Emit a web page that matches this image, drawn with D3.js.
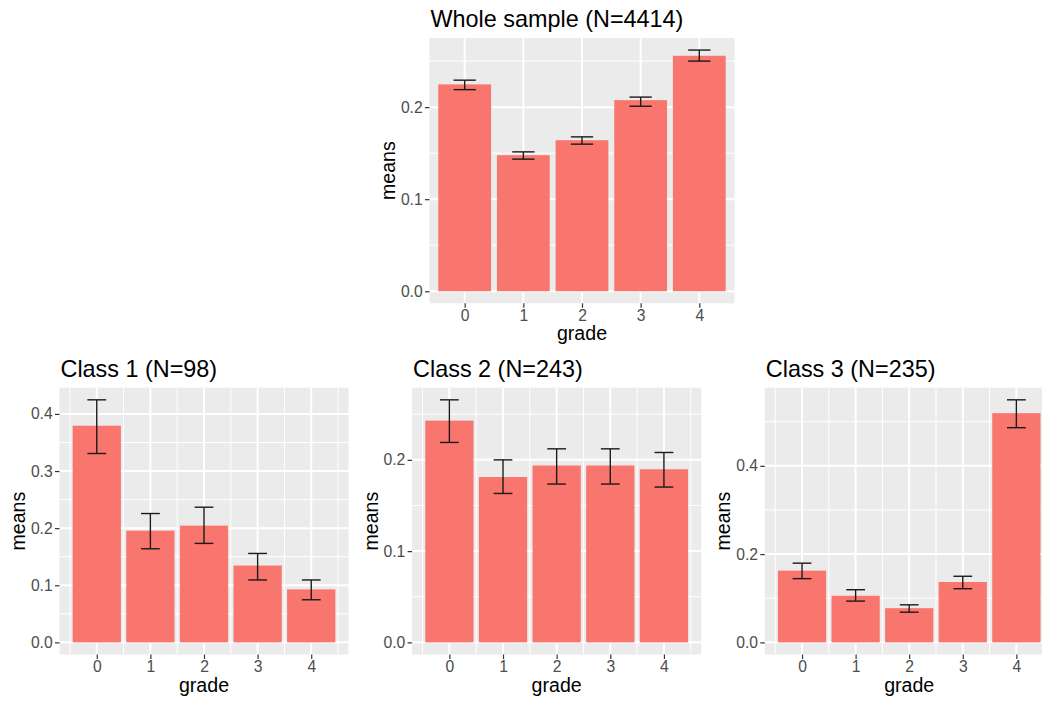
<!DOCTYPE html>
<html>
<head>
<meta charset="utf-8">
<script src="https://cdn.jsdelivr.net/npm/d3@7"></script>
<style>
  body { margin: 0; background: #fff; }
  svg { display: block; font-family: "Liberation Sans", Arial, sans-serif; }
</style>
</head>
<body>
<svg width="1042" height="702"></svg>
<script>
// data
const grades = [0, 1, 2, 3, 4];

const wholeMeans = [0.2247, 0.1478, 0.1641, 0.2076, 0.2558];
const wholeLower = [0.2190, 0.1435, 0.1598, 0.2010, 0.2500];
const wholeUpper = [0.2293, 0.1514, 0.1677, 0.2109, 0.2620];

const class1Means = [0.3794, 0.1956, 0.2044, 0.1345, 0.0928];
const class1Lower = [0.3307, 0.1639, 0.1733, 0.1093, 0.0746];
const class1Upper = [0.4247, 0.2256, 0.2367, 0.1557, 0.1093];

const class2Means = [0.2430, 0.1812, 0.1938, 0.1938, 0.1897];
const class2Lower = [0.2191, 0.1632, 0.1735, 0.1735, 0.1702];
const class2Upper = [0.2658, 0.2000, 0.2121, 0.2121, 0.2081];

const class3Means = [0.1626, 0.1056, 0.0775, 0.1368, 0.5193];
const class3Lower = [0.1444, 0.0935, 0.0684, 0.1216, 0.4865];
const class3Upper = [0.1795, 0.1193, 0.0851, 0.1498, 0.5496];

const titles = ["Whole sample (N=4414)", "Class 1 (N=98)", "Class 2 (N=243)", "Class 3 (N=235)"];
const yTicks = [[0, 0.1, 0.2], [0, 0.1, 0.2, 0.3, 0.4], [0, 0.1, 0.2], [0, 0.2, 0.4]];

// panel boxes (layout only)
const boxes = [
  {x0: 429.5, x1: 734.5, y0: 38, y1: 303.3, discrete: true, cap: 0.38},
  {x0: 59.5, x1: 348.5, y0: 387.7, y1: 654.5, discrete: false, cap: 0.35},
  {x0: 412.1, x1: 701.2, y0: 387.7, y1: 654.5, discrete: false, cap: 0.35},
  {x0: 764.8, x1: 1053.6, y0: 387.7, y1: 654.5, discrete: false, cap: 0.35}
];

const meansList = [wholeMeans, class1Means, class2Means, class3Means];
const lowerList = [wholeLower, class1Lower, class2Lower, class3Lower];
const upperList = [wholeUpper, class1Upper, class2Upper, class3Upper];

const svg = d3.select("svg");
const fmt = d3.format(".1f");

boxes.forEach(function(b, i) {
  const rows = grades.map(function(g, j) {
    return {grade: g, mean: meansList[i][j], lo: lowerList[i][j], hi: upperList[i][j]};
  });
  const top = d3.max(rows, d => d.hi);
  const pad = top * 0.05;

  // ggplot style expansion: discrete adds 0.6, continuous adds 5% of the bar span
  const xdom = b.discrete ? [-0.6, 4.6] : [-0.45 - 0.245, 4.45 + 0.245];
  const x = d3.scaleLinear().domain(xdom).range([b.x0, b.x1]);
  const y = d3.scaleLinear().domain([-pad, top + pad]).range([b.y1, b.y0]);

  const g = svg.append("g");

  g.append("rect")
    .attr("x", b.x0).attr("y", b.y0)
    .attr("width", b.x1 - b.x0).attr("height", b.y1 - b.y0)
    .style("fill", "#ebebeb");

  // grid
  const ticks = yTicks[i];
  const step = ticks[1] - ticks[0];
  const minorY = [];
  for (let v = ticks[0] + step / 2; v <= top + pad; v += step) minorY.push(v);
  g.selectAll(".minor-y").data(minorY).enter().append("line")
    .attr("x1", b.x0).attr("x2", b.x1)
    .attr("y1", d => y(d)).attr("y2", d => y(d))
    .style("stroke", "#fff").style("stroke-width", 1);
  if (!b.discrete) {
    const minorX = [-0.5, 0.5, 1.5, 2.5, 3.5, 4.5];
    g.selectAll(".minor-x").data(minorX).enter().append("line")
      .attr("x1", d => x(d)).attr("x2", d => x(d))
      .attr("y1", b.y0).attr("y2", b.y1)
      .style("stroke", "#fff").style("stroke-width", 1);
  }
  g.selectAll(".major-y").data(ticks).enter().append("line")
    .attr("x1", b.x0).attr("x2", b.x1)
    .attr("y1", d => y(d)).attr("y2", d => y(d))
    .style("stroke", "#fff").style("stroke-width", 2);
  g.selectAll(".major-x").data(grades).enter().append("line")
    .attr("x1", d => x(d)).attr("x2", d => x(d))
    .attr("y1", b.y0).attr("y2", b.y1)
    .style("stroke", "#fff").style("stroke-width", 2);

  // bars
  const bw = x(0.45) - x(0);
  g.selectAll(".bar").data(rows).enter().append("rect")
    .attr("x", d => x(d.grade) - bw)
    .attr("width", bw * 2)
    .attr("y", d => y(d.mean))
    .attr("height", d => y(0) - y(d.mean))
    .style("fill", "#F8766D");

  // error bars
  const cw = x(b.cap / 2) - x(0);
  const eb = g.selectAll(".err").data(rows).enter().append("g")
    .style("stroke", "#1a1a1a").style("stroke-width", 1.4);
  eb.append("line")
    .attr("x1", d => x(d.grade)).attr("x2", d => x(d.grade))
    .attr("y1", d => y(d.lo)).attr("y2", d => y(d.hi));
  eb.append("line")
    .attr("x1", d => x(d.grade) - cw).attr("x2", d => x(d.grade) + cw)
    .attr("y1", d => y(d.lo)).attr("y2", d => y(d.lo));
  eb.append("line")
    .attr("x1", d => x(d.grade) - cw).attr("x2", d => x(d.grade) + cw)
    .attr("y1", d => y(d.hi)).attr("y2", d => y(d.hi));

  // axes
  const ya = g.append("g").attr("transform", "translate(" + b.x0 + ",0)")
    .call(d3.axisLeft(y).tickValues(ticks).tickFormat(fmt).tickSize(4.5).tickPadding(2.3));
  const xa = g.append("g").attr("transform", "translate(0," + b.y1 + ")")
    .call(d3.axisBottom(x).tickValues(grades).tickFormat(d3.format("d")).tickSize(4.5).tickPadding(1.6));
  [ya, xa].forEach(function(a) {
    a.select(".domain").remove();
    a.selectAll(".tick line").style("stroke", "#333").style("stroke-width", 1.2);
    a.selectAll(".tick text")
      .style("fill", "#4d4d4d")
      .style("font-size", "15.7px")
      .style("font-family", "'Liberation Sans', Arial, sans-serif");
  });

  // labels
  g.append("text")
    .attr("x", b.x0 + 1).attr("y", b.y0 - 11)
    .style("font-size", "23.4px").style("fill", "#000")
    .text(titles[i]);
  g.append("text")
    .attr("x", (b.x0 + Math.min(b.x1, 1042 + (b.x1 - 1042))) / 2)
    .attr("y", b.y1 + 37)
    .attr("text-anchor", "middle")
    .style("font-size", "19.6px").style("fill", "#000")
    .text("grade");
  g.append("text")
    .attr("transform", "translate(" + (b.x0 - 34.5) + "," + ((b.y0 + b.y1) / 2) + ") rotate(-90)")
    .attr("text-anchor", "middle")
    .style("font-size", "19.6px").style("fill", "#000")
    .text("means");
});
</script>
</body>
</html>
